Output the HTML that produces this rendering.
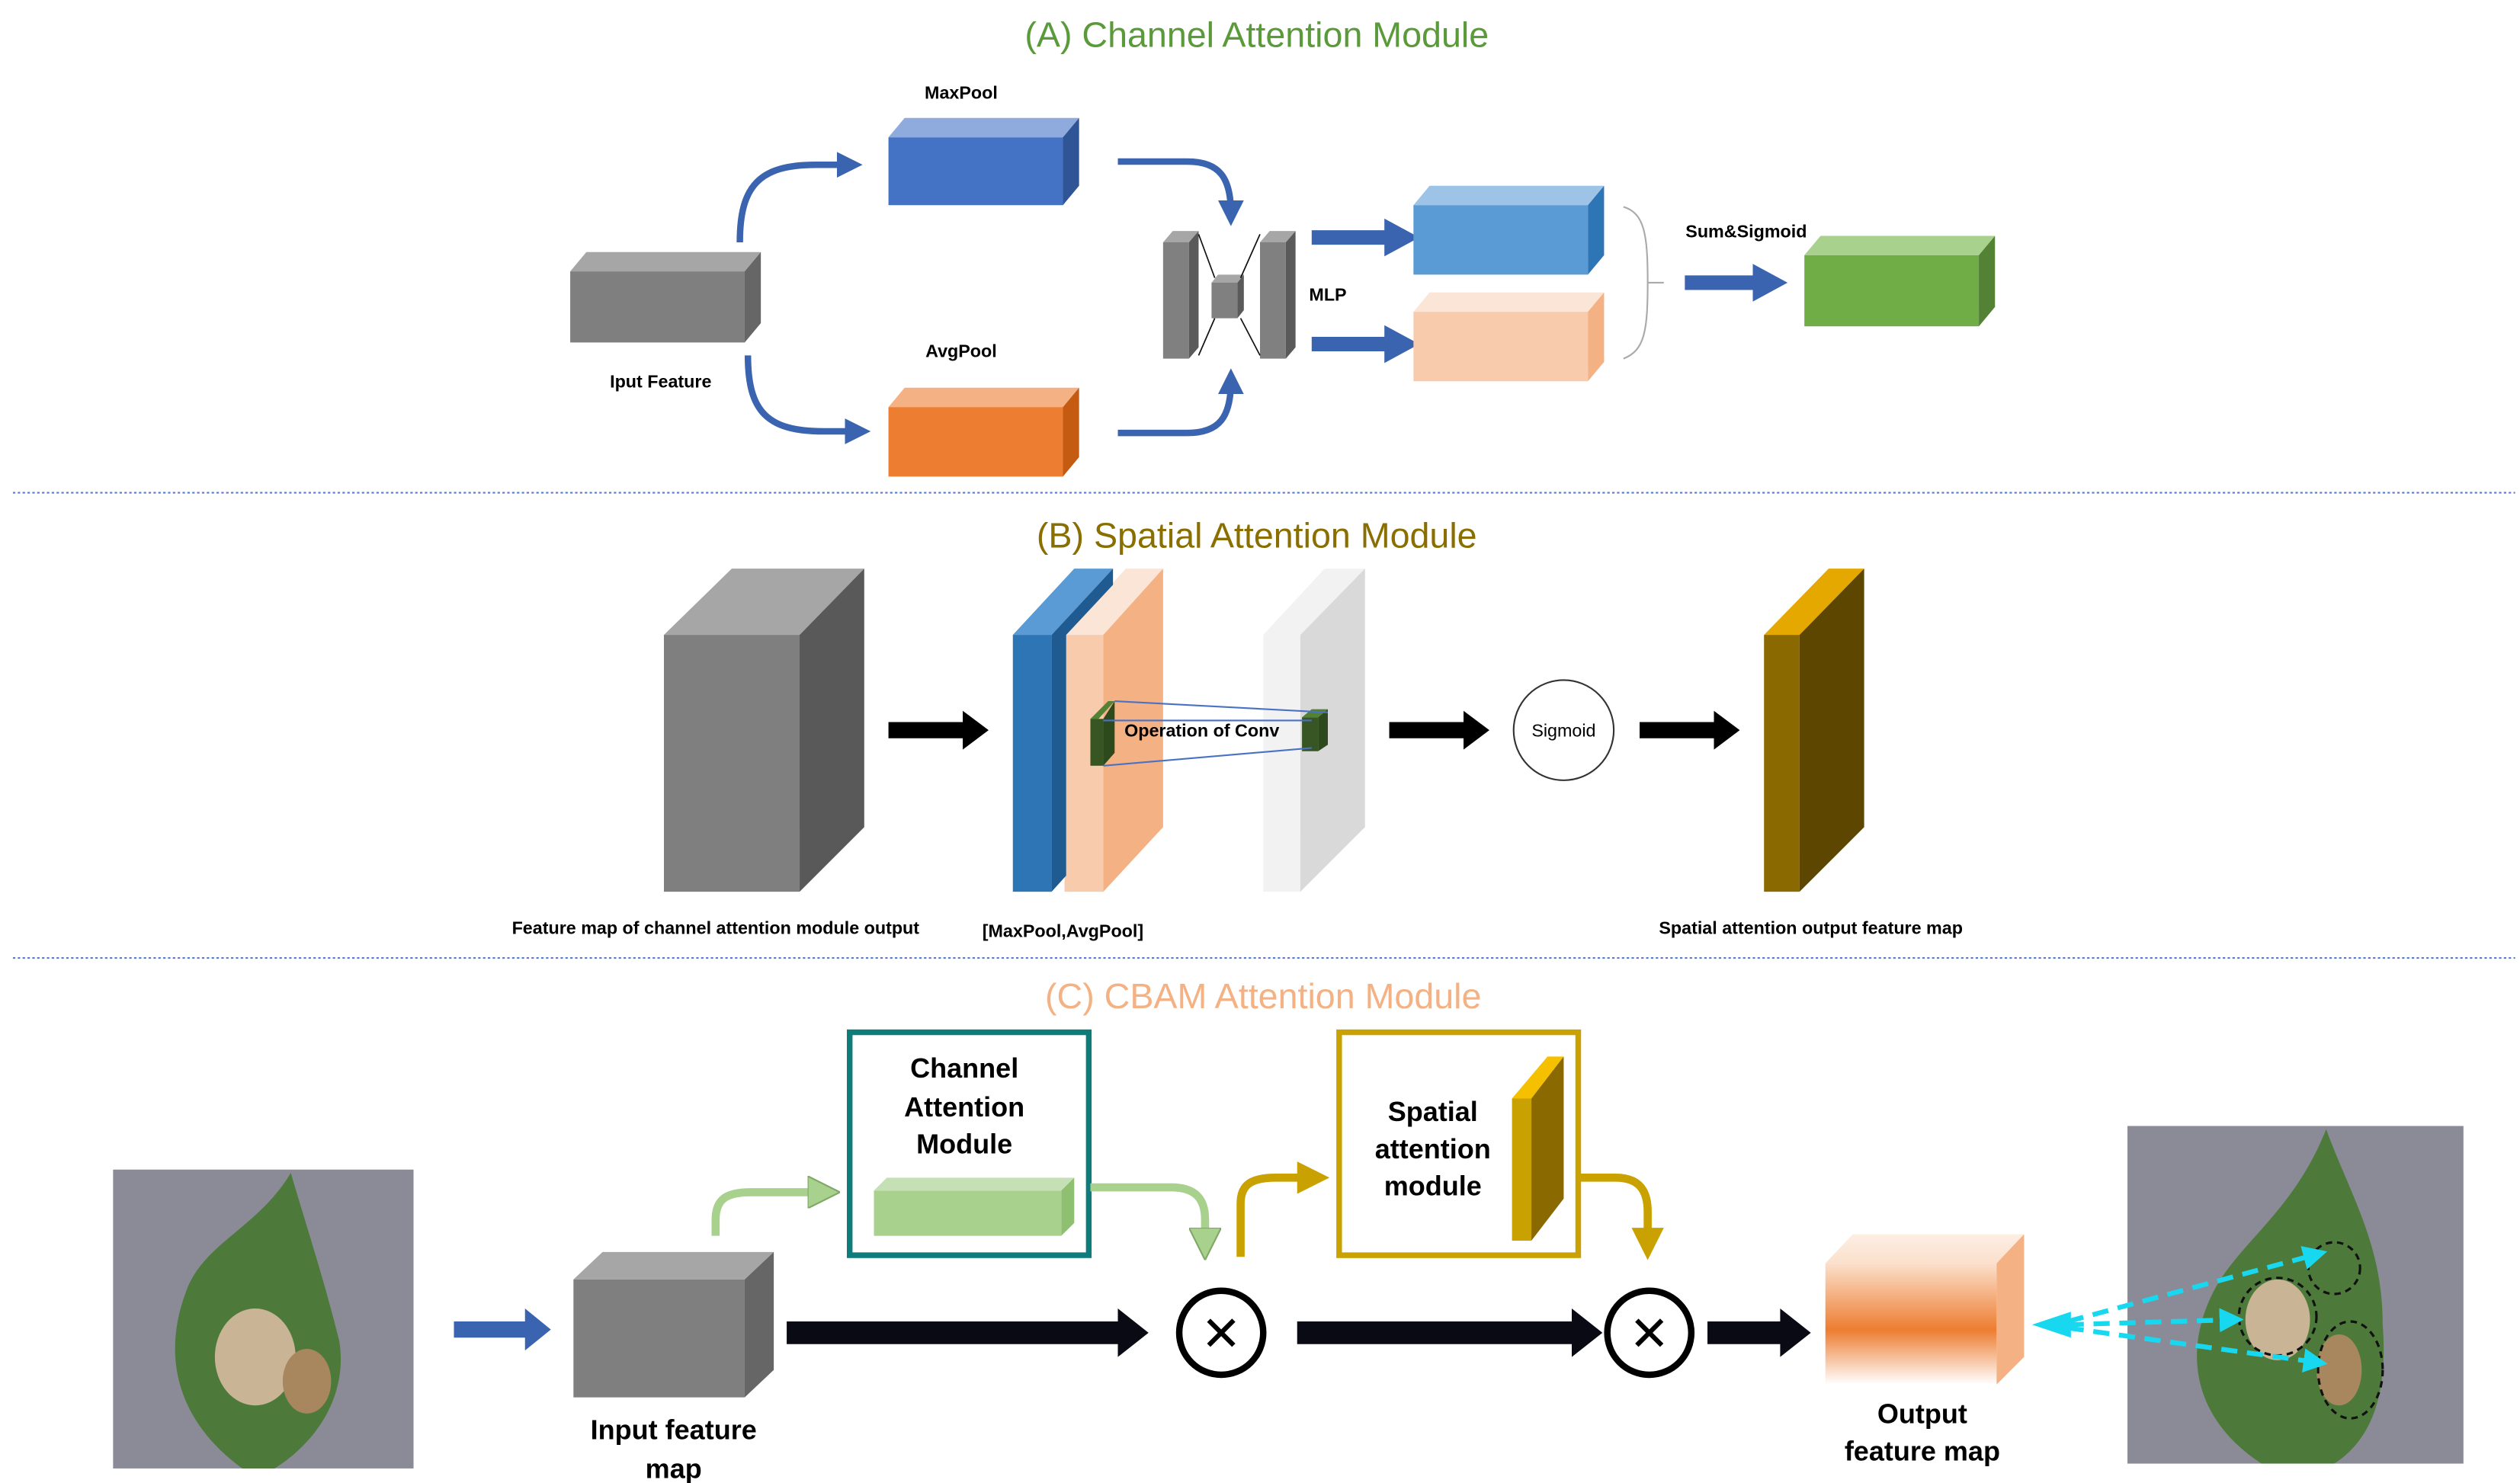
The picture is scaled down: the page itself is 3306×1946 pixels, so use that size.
<!DOCTYPE html>
<html><head><meta charset="utf-8"><style>
html,body{margin:0;padding:0;background:#fff;}
svg{display:block;}
text{font-family:"Liberation Sans",sans-serif;}
</style></head><body>
<svg width="3306" height="1946" viewBox="0 0 1560 918" preserveAspectRatio="none" xmlns="http://www.w3.org/2000/svg">
<defs>
<marker id="bh" markerWidth="4" markerHeight="4" refX="2" refY="2" orient="auto" markerUnits="strokeWidth"><path d="M0,0 L4,2 L0,4 z" fill="#3a63b0"/></marker>
<marker id="bh2" markerWidth="2.4" markerHeight="2.6" refX="1" refY="1.3" orient="auto" markerUnits="strokeWidth"><path d="M0,0 L2.4,1.3 L0,2.6 z" fill="#3a63b0"/></marker>
<marker id="gh" markerWidth="4" markerHeight="4" refX="2" refY="2" orient="auto" markerUnits="strokeWidth"><path d="M0,0 L4,2 L0,4 z" fill="#a9d18e" stroke="#7fa866" stroke-width="0.2"/></marker>
<marker id="yh" markerWidth="4" markerHeight="4" refX="2" refY="2" orient="auto" markerUnits="strokeWidth"><path d="M0,0 L4,2 L0,4 z" fill="#c9a100"/></marker>
<marker id="ch" markerWidth="5" markerHeight="5" refX="2" refY="2.5" orient="auto" markerUnits="strokeWidth"><path d="M0,0 L5,2.5 L0,5 z" fill="#18d8f0"/></marker>
<linearGradient id="og" x1="0" y1="0" x2="0" y2="1"><stop offset="0" stop-color="#fbe0cc"/><stop offset="0.55" stop-color="#ed7d31"/><stop offset="1" stop-color="#fff"/></linearGradient>
<linearGradient id="ogt" x1="0" y1="0" x2="0" y2="1"><stop offset="0" stop-color="#fdeee3"/><stop offset="1" stop-color="#fbe0cc"/></linearGradient>
</defs>

<text x="778" y="29" font-size="22" fill="#5b9a3a" text-anchor="middle">(A) Channel Attention Module</text>

<polygon points="353,168 363,156 471,156 461,168" fill="#a6a6a6"/>
<rect x="353" y="168" width="108" height="44" fill="#7f7f7f"/>
<polygon points="461,168 471,156 471,200 461,212" fill="#666"/>
<text x="409" y="240" font-size="11" font-weight="bold" text-anchor="middle">Iput Feature</text>

<text x="595" y="61" font-size="11" font-weight="bold" text-anchor="middle">MaxPool</text>
<polygon points="550,85 560,73 668,73 658,85" fill="#8faadc"/>
<rect x="550" y="85" width="108" height="42" fill="#4472c4"/>
<polygon points="658,85 668,73 668,115 658,127" fill="#2f5597"/>
<text x="595" y="221" font-size="11" font-weight="bold" text-anchor="middle">AvgPool</text>
<polygon points="550,252 560,240 668,240 658,252" fill="#f4b183"/>
<rect x="550" y="252" width="108" height="43" fill="#ed7d31"/>
<polygon points="658,252 668,240 668,283 658,295" fill="#c55a11"/>

<path d="M458,150 C458,115 470,102 505,102 L526,102" fill="none" stroke="#3a63b0" stroke-width="4" marker-end="url(#bh)"/>
<path d="M463,220 C463,255 475,267 510,267 L531,267" fill="none" stroke="#3a63b0" stroke-width="4" marker-end="url(#bh)"/>
<path d="M692,100 L735,100 C755,100 762,110 762,132" fill="none" stroke="#3a63b0" stroke-width="4" marker-end="url(#bh)"/>
<path d="M692,268 L735,268 C755,268 762,258 762,236" fill="none" stroke="#3a63b0" stroke-width="4" marker-end="url(#bh)"/>

<polygon points="720,150 726,143 742,143 736,150" fill="#a6a6a6"/>
<rect x="720" y="150" width="16" height="72" fill="#808080"/>
<polygon points="736,150 742,143 742,215 736,222" fill="#5a5a5a"/>
<polygon points="780,150 786,143 802,143 796,150" fill="#a6a6a6"/>
<rect x="780" y="150" width="16" height="72" fill="#808080"/>
<polygon points="796,150 802,143 802,215 796,222" fill="#5a5a5a"/>
<polygon points="750,175 754,170 770,170 766,175" fill="#a6a6a6"/>
<rect x="750" y="175" width="16" height="22" fill="#808080"/>
<polygon points="766,175 770,170 770,192 766,197" fill="#5a5a5a"/>
<path d="M742,145 L752,172 M780,145 L768,172 M742,220 L752,197 M780,220 L768,197" stroke="#111" stroke-width="0.8"/>
<text x="822" y="186" font-size="11" font-weight="bold" text-anchor="middle">MLP</text>

<path d="M812,147 L866,147" stroke="#3a63b0" stroke-width="9" marker-end="url(#bh2)"/>
<path d="M812,213 L866,213" stroke="#3a63b0" stroke-width="9" marker-end="url(#bh2)"/>

<polygon points="875,127 885,115 993,115 983,127" fill="#9dc3e6"/>
<rect x="875" y="127" width="108" height="43" fill="#5b9bd5"/>
<polygon points="983,127 993,115 993,158 983,170" fill="#2e75b6"/>
<polygon points="875,193 885,181 993,181 983,193" fill="#fbe5d6"/>
<rect x="875" y="193" width="108" height="43" fill="#f8cbad"/>
<polygon points="983,193 993,181 993,224 983,236" fill="#f4b183"/>

<path d="M1005,128 C1018,132 1020,145 1020,175 C1020,205 1018,217 1005,222 M1020,175 L1030,175" fill="none" stroke="#aaa" stroke-width="1"/>
<text x="1081" y="147" font-size="11" font-weight="bold" text-anchor="middle">Sum&amp;Sigmoid</text>
<path d="M1043,175 L1094,175" stroke="#3a63b0" stroke-width="9" marker-end="url(#bh2)"/>
<polygon points="1117,158 1127,146 1235,146 1225,158" fill="#a9d18e"/>
<rect x="1117" y="158" width="108" height="44" fill="#70ad47"/>
<polygon points="1225,158 1235,146 1235,190 1225,202" fill="#548235"/>

<line x1="8" y1="305" x2="1557" y2="305" stroke="#5a7bd0" stroke-width="1" stroke-dasharray="1.5,1.5"/>

<text x="778" y="339" font-size="22" fill="#8a6e00" text-anchor="middle">(B) Spatial Attention Module</text>
<polygon points="411,393 453,352 535,352 495,393" fill="#a6a6a6"/>
<rect x="411" y="393" width="84" height="159" fill="#7f7f7f"/>
<polygon points="495,393 535,352 535,512 495,552" fill="#595959"/>
<text x="443" y="578" font-size="11" font-weight="bold" text-anchor="middle">Feature map of channel attention module output</text>

<path d="M550,452 L598,452" stroke="#000" stroke-width="10"/><polygon points="596,440 612,452 596,464" fill="#000"/>

<polygon points="659,393 697,352 720,352 683,393" fill="#fbe5d6"/>
<rect x="659" y="393" width="24" height="159" fill="#f8cbad"/>
<polygon points="683,393 720,352 720,512 683,552" fill="#f4b183"/>
<polygon points="627,393 665,352 689,352 651,393" fill="#5b9bd5"/>
<rect x="627" y="393" width="24" height="159" fill="#2e75b6"/>
<polygon points="651,393 689,352 689,362 660,393 660,542 651,552" fill="#1f5a91"/>

<polygon points="782,393 820,352 845,352 805,393" fill="#f2f2f2"/>
<rect x="782" y="393" width="23" height="159" fill="#f2f2f2"/>
<polygon points="805,393 845,352 845,512 805,552" fill="#d9d9d9"/>

<polygon points="675,445 686,434 690,434 680,445" fill="#548235"/>
<rect x="675" y="445" width="8" height="29" fill="#375623"/>
<polygon points="683,445 690,434 690,466 683,474" fill="#2d4a1d"/>
<rect x="806" y="444" width="10" height="21" fill="#375623"/>
<polygon points="806,444 812,439 822,439 816,444" fill="#548235"/>
<polygon points="816,444 822,439 822,461 816,465" fill="#2d4a1d"/>
<path d="M690,434 L822,441 M683,446 L812,446 M683,474 L812,463" stroke="#4a72c4" stroke-width="1" fill="none"/>
<text x="744" y="456" font-size="11" font-weight="bold" text-anchor="middle">Operation of Conv</text>
<text x="658" y="580" font-size="11" font-weight="bold" text-anchor="middle">[MaxPool,AvgPool]</text>

<path d="M860,452 L908,452" stroke="#000" stroke-width="10"/><polygon points="906,440 922,452 906,464" fill="#000"/>
<circle cx="968" cy="452" r="31" fill="#fff" stroke="#333" stroke-width="1"/>
<text x="968" y="456" font-size="11" text-anchor="middle">Sigmoid</text>
<path d="M1015,452 L1063,452" stroke="#000" stroke-width="10"/><polygon points="1061,440 1077,452 1061,464" fill="#000"/>

<polygon points="1092,393 1132,352 1154,352 1114,393" fill="#e5a800"/>
<rect x="1092" y="393" width="22" height="159" fill="#8a6a00"/>
<polygon points="1114,393 1154,352 1154,512 1114,552" fill="#5c4600"/>
<text x="1121" y="578" font-size="11" font-weight="bold" text-anchor="middle">Spatial attention output feature map</text>

<line x1="8" y1="593" x2="1557" y2="593" stroke="#5a7bd0" stroke-width="1" stroke-dasharray="1.5,1.5"/>

<text x="782" y="624" font-size="22" fill="#f4b183" text-anchor="middle">(C) CBAM Attention Module</text>

<rect x="70" y="724" width="186" height="185" fill="#8b8b98"/>
<path d="M180,726 C190,760 200,790 210,830 C215,860 200,890 170,909 L150,909 C110,880 100,840 115,800 C125,770 160,760 180,726 Z" fill="#4d7a3a"/>
<ellipse cx="158" cy="840" rx="25" ry="30" fill="#c9b595"/>
<ellipse cx="190" cy="855" rx="15" ry="20" fill="#a8875e"/>

<path d="M281,823 L327,823" stroke="#3a63b0" stroke-width="10"/><polygon points="325,810 341,823 325,836" fill="#3a63b0"/>

<polygon points="355,792 373,775 479,775 461,792" fill="#a6a6a6"/>
<rect x="355" y="792" width="106" height="73" fill="#7f7f7f"/>
<polygon points="461,792 479,775 479,848 461,865" fill="#666"/>
<text x="417" y="891" font-size="17" font-weight="bold" text-anchor="middle">Input feature</text>
<text x="417" y="915" font-size="17" font-weight="bold" text-anchor="middle">map</text>

<path d="M487,825 L694,825" stroke="#0a0a14" stroke-width="14"/><polygon points="692,810 711,825 692,840" fill="#0a0a14"/>
<circle cx="756" cy="825" r="26" fill="#fff" stroke="#000" stroke-width="4"/>
<text x="756" y="836" font-size="30" text-anchor="middle">✕</text>
<path d="M803,825 L975,825" stroke="#0a0a14" stroke-width="14"/><polygon points="973,810 992,825 973,840" fill="#0a0a14"/>
<circle cx="1021" cy="825" r="26" fill="#fff" stroke="#000" stroke-width="4"/>
<text x="1021" y="836" font-size="30" text-anchor="middle">✕</text>
<path d="M1057,825 L1104,825" stroke="#0a0a14" stroke-width="14"/><polygon points="1102,810 1121,825 1102,840" fill="#0a0a14"/>

<rect x="526" y="639" width="148" height="138" fill="#fff" stroke="#0e7c7b" stroke-width="3.5"/>
<text x="597" y="667" font-size="17" font-weight="bold" text-anchor="middle">Channel</text>
<text x="597" y="691" font-size="17" font-weight="bold" text-anchor="middle">Attention</text>
<text x="597" y="714" font-size="17" font-weight="bold" text-anchor="middle">Module</text>
<polygon points="541,737 549,729 665,729 657,737" fill="#c5e0b4"/>
<rect x="541" y="737" width="116" height="28" fill="#a9d18e"/>
<polygon points="657,737 665,729 665,757 657,765" fill="#8fbf70"/>
<path d="M443,765 L443,755 C443,742 450,738 465,738 L510,738" fill="none" stroke="#a9d18e" stroke-width="5" marker-end="url(#gh)"/>
<path d="M675,735 L725,735 C740,735 746,742 746,755 L746,770" fill="none" stroke="#a9d18e" stroke-width="5" marker-end="url(#gh)"/>

<rect x="829" y="639" width="148" height="138" fill="#fff" stroke="#c9a100" stroke-width="3.5"/>
<text x="887" y="694" font-size="17" font-weight="bold" text-anchor="middle">Spatial</text>
<text x="887" y="717" font-size="17" font-weight="bold" text-anchor="middle">attention</text>
<text x="887" y="740" font-size="17" font-weight="bold" text-anchor="middle">module</text>
<polygon points="936,680 958,654 968,654 948,680" fill="#f5c000"/>
<rect x="936" y="680" width="12" height="88" fill="#c9a100"/>
<polygon points="948,680 968,654 968,742 948,768" fill="#8a6a00"/>
<path d="M768,778 L768,745 C768,733 775,729 790,729 L813,729" fill="none" stroke="#c9a100" stroke-width="5" marker-end="url(#yh)"/>
<path d="M978,729 L1000,729 C1014,729 1020,736 1020,750 L1020,770" fill="none" stroke="#c9a100" stroke-width="5" marker-end="url(#yh)"/>

<polygon points="1130,782 1147,764 1253,764 1236,782" fill="url(#ogt)"/>
<rect x="1130" y="782" width="106" height="75" fill="url(#og)"/>
<polygon points="1236,782 1253,764 1253,840 1236,857" fill="#f2a46e" opacity="0.85"/>
<text x="1190" y="881" font-size="17" font-weight="bold" text-anchor="middle">Output</text>
<text x="1190" y="904" font-size="17" font-weight="bold" text-anchor="middle">feature map</text>

<rect x="1317" y="697" width="208" height="209" fill="#8b8b98"/>
<path d="M1440,699 C1455,740 1475,770 1475,820 C1478,860 1470,890 1445,906 L1400,906 C1360,880 1350,840 1370,800 C1385,770 1420,750 1440,699 Z" fill="#4d7a3a"/>
<ellipse cx="1410" cy="817" rx="20" ry="25" fill="#c9b595"/>
<ellipse cx="1448" cy="848" rx="14" ry="22" fill="#a8875e"/>
<circle cx="1445" cy="785" r="16" fill="none" stroke="#111" stroke-width="1.5" stroke-dasharray="4,3"/>
<circle cx="1410" cy="815" r="24" fill="none" stroke="#111" stroke-width="1.5" stroke-dasharray="4,3"/>
<ellipse cx="1455" cy="848" rx="20" ry="30" fill="none" stroke="#111" stroke-width="1.5" stroke-dasharray="4,3"/>
<polygon points="1258,820 1282,812 1282,828" fill="#18d8f0"/>
<path d="M1280,818 L1432,777" stroke="#18d8f0" stroke-width="3" stroke-dasharray="10,6" marker-end="url(#ch)"/>
<path d="M1280,820 L1380,817" stroke="#18d8f0" stroke-width="3" stroke-dasharray="10,6" marker-end="url(#ch)"/>
<path d="M1280,822 L1432,843" stroke="#18d8f0" stroke-width="3" stroke-dasharray="10,6" marker-end="url(#ch)"/>
</svg>
</body></html>
